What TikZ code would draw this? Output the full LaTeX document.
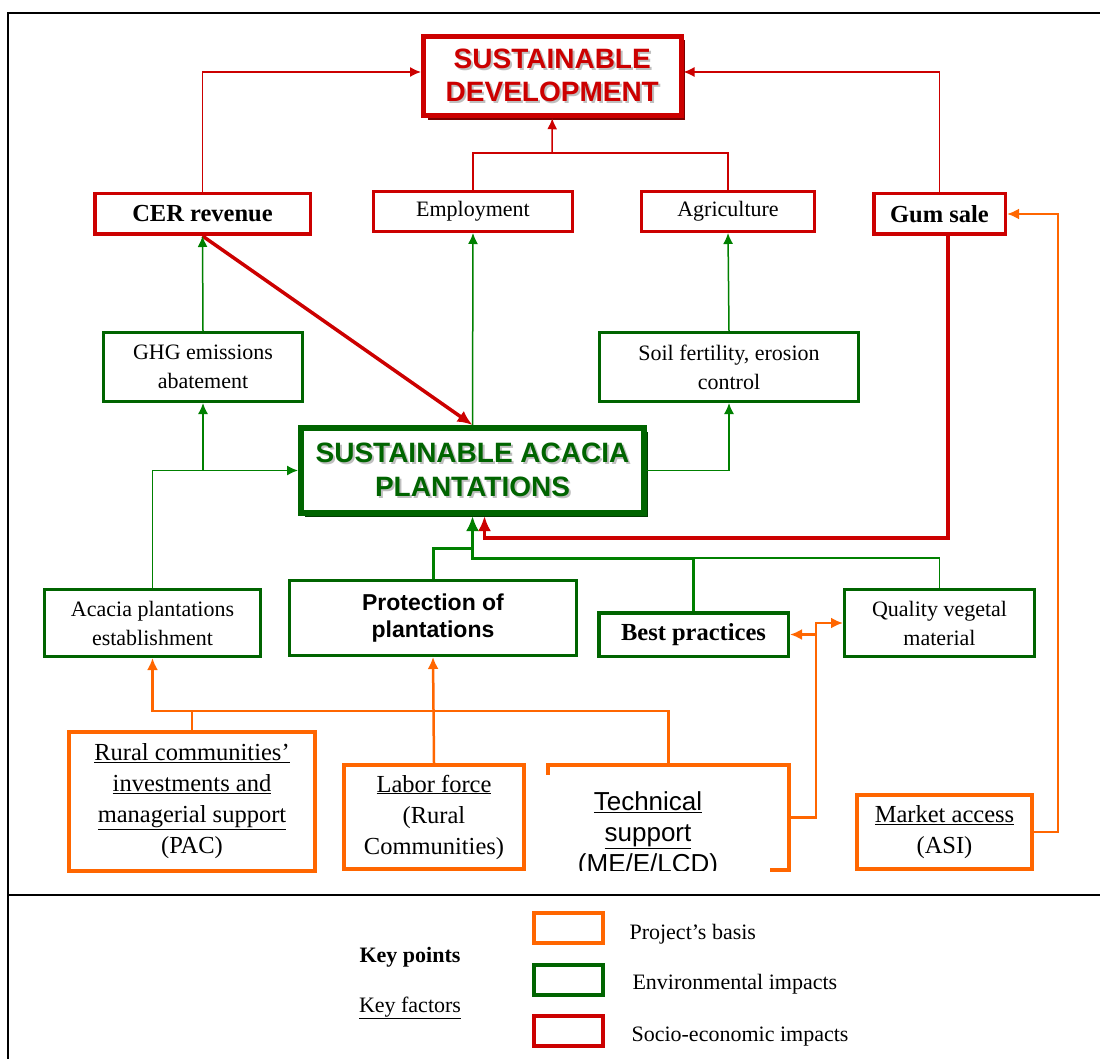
\documentclass[tikz,border=0pt]{standalone}
\usepackage{fontspec}
\setmainfont{Liberation Serif}
\newfontfamily\arialfont{Liberation Sans}
\usetikzlibrary{shadows,arrows.meta}

\definecolor{socred}{RGB}{204,0,0}
\definecolor{envgreen}{RGB}{0,100,0}
\definecolor{envline}{RGB}{0,128,0}
\definecolor{basisorange}{RGB}{255,102,0}

\newcommand{\castshadow}[1]{\makebox[0pt][l]{\hspace{2pt}\raisebox{-2pt}{\textcolor{gray!50}{#1}}}#1}

\begin{document}
\begin{tikzpicture}[x=1pt,y=-1pt,>={Latex[length=11pt,width=10pt]},
  box/.style={draw,fill=white,inner sep=0pt,align=center},
  redbox/.style={box,draw=socred,line width=3.5pt},
  greenbox/.style={box,draw=envgreen,line width=3pt},
  orangebox/.style={box,draw=basisorange,line width=4pt},
  legendbox/.style={box,line width=4pt,minimum width=69pt,minimum height=30pt},
  txtsmall/.style={font=\fontsize{22}{29}\selectfont},
  txtbold/.style={font=\bfseries\fontsize{24.5}{30}\selectfont},
  txtfactor/.style={font=\fontsize{24.5}{31}\selectfont},
  redthin/.style={draw=socred,line width=1.5pt},
  redthick/.style={draw=socred,line width=3.5pt,>={Latex[length=15pt,width=13pt]}},
  greenthin/.style={draw=envline,line width=1.5pt},
  greenthick/.style={draw=envline,line width=3pt,>={Latex[length=15pt,width=13pt]}},
  orangeline/.style={draw=basisorange,line width=2.5pt,>={Latex[length=12pt,width=11pt]}}]

  \useasboundingbox (0,0) rectangle (1100,1059);

  % frame
  \draw[line width=2pt] (1102,13) -- (8,13) -- (8,1062);
  \draw[line width=2pt] (8,895) -- (1102,895);

  % goal
  \node[redbox,line width=5pt,minimum width=257.5pt,minimum height=79.5pt,
    drop shadow={shadow xshift=4pt,shadow yshift=-4pt,fill=socred!60!black,opacity=1},
    text=socred,font=\arialfont\bfseries\fontsize{28}{33}\selectfont]
    (sd) at (552.25,76) {\castshadow{SUSTAINABLE}\\\castshadow{DEVELOPMENT}};

  % socio-economic impacts
  \node[redbox,txtbold,minimum width=215.5pt,minimum height=40.5pt] (cer) at (202.5,214) {CER revenue};
  \node[redbox,line width=3pt,txtsmall,minimum width=199pt,minimum height=40pt] (emp) at (473,211.5) {Employment};
  \node[redbox,line width=3pt,txtsmall,minimum width=173pt,minimum height=40pt] (agri) at (728,211.5) {Agriculture};
  \node[redbox,txtbold,minimum width=131.5pt,minimum height=40.5pt] (gum) at (939.5,214) {Gum sale};

  % environmental impacts
  \node[greenbox,txtsmall,minimum width=199pt,minimum height=69pt] (ghg) at (203,367) {GHG emissions\\abatement};
  \node[greenbox,txtsmall,minimum width=259pt,minimum height=69pt] (soil) at (729,367) {Soil fertility, erosion\\control};
  \node[greenbox,line width=6pt,minimum width=343pt,minimum height=85pt,
    drop shadow={shadow xshift=3.5pt,shadow yshift=-3.5pt,fill=envgreen!60!black,opacity=1},
    text=envgreen,font=\arialfont\bfseries\fontsize{28}{34}\selectfont]
    (sap) at (472.5,470.5) {\castshadow{SUSTAINABLE ACACIA}\\\castshadow{PLANTATIONS}};
  \node[greenbox,txtsmall,minimum width=216pt,minimum height=67pt] (acacia) at (152.5,623) {Acacia plantations\\establishment};
  \node[greenbox,font=\arialfont\bfseries\fontsize{23}{27}\selectfont,minimum width=287pt,minimum height=75pt] (prot) at (433,618) {Protection of\\plantations};
  \node[greenbox,line width=3.5pt,txtbold,minimum width=189.5pt,minimum height=43.5pt] (best) at (693.5,634.5) {Best practices};
  \node[greenbox,txtsmall,minimum width=190pt,minimum height=67pt] (qual) at (939.5,623) {Quality vegetal\\material};

  % project's basis
  \node[orangebox,txtfactor,minimum width=246pt,minimum height=139pt] (rural) at (192,801.5)
    {\underline{Rural communities’}\\\underline{investments and}\\\underline{managerial support}\\(PAC)};
  \node[orangebox,txtfactor,minimum width=180pt,minimum height=104pt] (labor) at (434,817) {\underline{Labor force}\\(Rural\\Communities)};
  \node[orangebox,minimum width=241pt,minimum height=105pt] (tech) at (668.5,817.5) {};
  \fill[white] (545,775) rectangle (770,875);
  \begin{scope}
    \clip (548,775) rectangle (770,870);
    \node[align=center,inner sep=0pt,anchor=north,font=\arialfont\fontsize{26}{31}\selectfont]
      (techtext) at (648,791) {\underline{Technical}\\\underline{support}\\(ME/E/LCD)};
  \end{scope}
  \node[orangebox,txtfactor,minimum width=175pt,minimum height=74pt] (market) at (944.5,832) {\underline{Market access}\\(ASI)};

  % red connectors
  \draw[redthin,->] (cer.north) |- ([yshift=4pt]sd.west);
  \draw[redthin,->] (gum.north) |- ([yshift=4pt]sd.east);
  \coordinate (devjoin) at (552,153);
  \draw[redthin] (emp.north) |- (devjoin) -| (agri.north);
  \draw[redthin,->] (devjoin) -- (sd.south);
  \draw[redthick,->] (cer.south) -- (sap.north);
  \coordinate (gumturn) at (948,538);
  \draw[redthick,->] (gum.south -| gumturn) -- (gumturn) -| ([xshift=12pt]sap.south);

  % green connectors
  \draw[greenthin,->] (ghg.north) -- (cer.south);
  \draw[greenthin,->] (sap.north) -- (emp.south);
  \draw[greenthin,->] (soil.north) -- (agri.south);
  \draw[greenthin,->] (acacia.north) |- (sap.west);
  \draw[greenthin,->] (ghg.south |- sap.west) -- (ghg.south);
  \draw[greenthin,->] (sap.east) -| (soil.south);
  \coordinate (plantjoin) at (472.5,558);
  \coordinate (protjoin) at (472.5,548);
  \draw[greenthick,->] (best.north) |- (plantjoin) -- (sap.south);
  \draw[greenthick] (prot.north) |- (protjoin);
  \draw[greenthin] (best.north |- plantjoin) -| (qual.north);

  % orange connectors
  \coordinate (basejoin) at (192,711);
  \draw[orangeline,->] (tech.north) |- (basejoin) -| (acacia.south);
  \draw[basisorange,line width=1.2pt] (rural.north) -- (basejoin);
  \draw[orangeline,->] (labor.north) -- (prot.south);
  \coordinate (techturn) at (816,623);
  \draw[orangeline,->] (tech.east) -| (techturn) -- (qual.west);
  \draw[orangeline,->] (techturn |- best.east) -- (best.east);
  \draw[orangeline,->] (market.east) -- ++(24,0) |- (gum.east);

  % legend
  \node[font=\bfseries\fontsize{22}{26}\selectfont,anchor=base] (keypoints) at (410,962) {Key points};
  \node[font=\fontsize{22}{26}\selectfont,anchor=base] (keyfactors) at (410,1012) {\underline{Key factors}};
  \node[legendbox,draw=basisorange] (legbasis) at (568.5,928) {};
  \node[legendbox,draw=envgreen] (legenv) at (568.5,979.5) {};
  \node[legendbox,draw=socred] (legsoc) at (568.5,1031) {};
  \node[txtsmall,anchor=base west] (legbasistext) at (626,939) {Project’s basis};
  \node[txtsmall,anchor=base west] (legenvtext) at (629,989) {Environmental impacts};
  \node[txtsmall,anchor=base west] (legsoctext) at (628,1041) {Socio-economic impacts};

\end{tikzpicture}
\end{document}
